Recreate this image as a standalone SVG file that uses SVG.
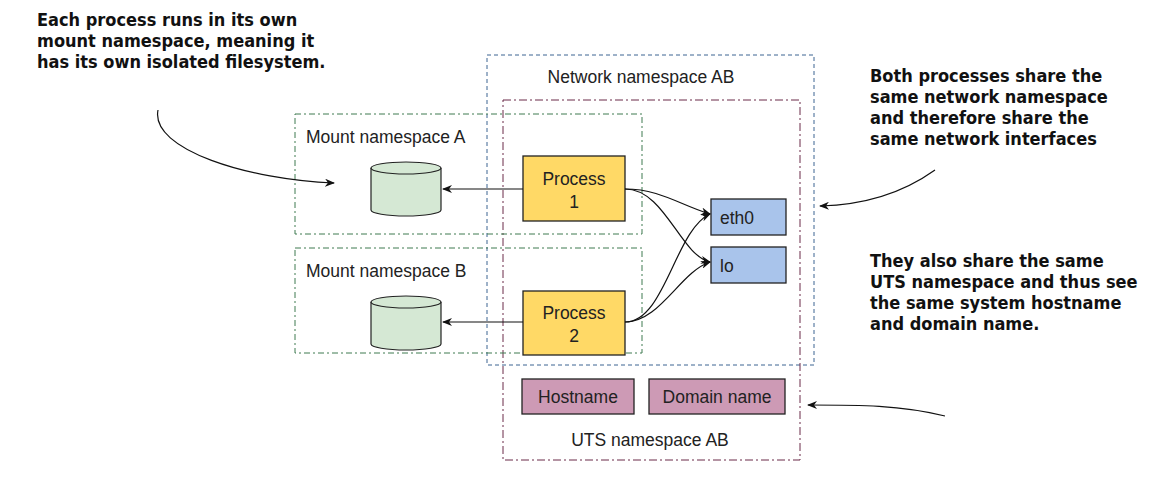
<svg xmlns="http://www.w3.org/2000/svg" width="1154" height="478" viewBox="0 0 1154 478">
<style>
.lbl{font-family:"Liberation Sans",Arial,sans-serif;font-size:17.5px;fill:#222}
.ann{font-family:"DejaVu Sans Condensed","Liberation Sans",sans-serif;font-weight:bold;font-size:18px;fill:#111}
.box{stroke:#222;stroke-width:1.3}
.c{fill:none;stroke:#111;stroke-width:1.2}
</style>
<defs><marker id="a" markerWidth="10" markerHeight="8" refX="9" refY="4" orient="auto" markerUnits="userSpaceOnUse"><path d="M0,0L10,4L0,8L3,4z" fill="#111"/></marker></defs>
<rect width="1154" height="478" fill="#fff"/>
<g id="network-ns"><rect x="487" y="55" width="327" height="310" fill="none" stroke="#3d6592" stroke-dasharray="4,3"/><text class="lbl" x="641" y="83" text-anchor="middle">Network namespace AB</text></g>
<g id="uts-ns"><rect x="503" y="100" width="297" height="360" fill="none" stroke="#6b2a48" stroke-dasharray="8,3,2,3"/><text class="lbl" x="650" y="446" text-anchor="middle">UTS namespace AB</text></g>
<g id="mount-a"><rect x="295" y="114" width="347" height="120" fill="none" stroke="#3f7a50" stroke-dasharray="6,3,2,3"/><text class="lbl" x="306" y="143">Mount namespace A</text></g>
<g id="mount-b"><rect x="295" y="248" width="347" height="105" fill="none" stroke="#3f7a50" stroke-dasharray="6,3,2,3"/><text class="lbl" x="306" y="277">Mount namespace B</text></g>
<g id="disk-a"><path d="M371,168v42a35,6 0 0 0 70,0v-42" fill="#d5e8d4" stroke="#222" stroke-width="1.2"/><ellipse cx="406" cy="168" rx="35" ry="6" fill="#d5e8d4" stroke="#222" stroke-width="1.2"/></g>
<g id="disk-b"><path d="M371,302v42a35,6 0 0 0 70,0v-42" fill="#d5e8d4" stroke="#222" stroke-width="1.2"/><ellipse cx="406" cy="302" rx="35" ry="6" fill="#d5e8d4" stroke="#222" stroke-width="1.2"/></g>
<g id="process1"><rect class="box" x="523" y="156" width="102" height="65" fill="#ffd966"/><text class="lbl" x="574" y="185" text-anchor="middle" font-size="19">Process</text><text class="lbl" x="574" y="208" text-anchor="middle" font-size="19">1</text></g>
<g id="process2"><rect class="box" x="523" y="291" width="102" height="64" fill="#ffd966"/><text class="lbl" x="574" y="319" text-anchor="middle" font-size="19">Process</text><text class="lbl" x="574" y="342" text-anchor="middle" font-size="19">2</text></g>
<g id="eth0"><rect class="box" x="711" y="199" width="75" height="36" fill="#a9c4eb"/><text class="lbl" x="720" y="224" font-size="18">eth0</text></g>
<g id="lo"><rect class="box" x="711" y="247" width="75" height="36" fill="#a9c4eb"/><text class="lbl" x="720" y="272" font-size="18">lo</text></g>
<g id="hostname"><rect class="box" x="522" y="379" width="112" height="35" fill="#cd9ab5"/><text class="lbl" x="578" y="403" text-anchor="middle">Hostname</text></g>
<g id="domain"><rect class="box" x="649" y="379" width="136" height="35" fill="#cd9ab5"/><text class="lbl" x="717" y="403" text-anchor="middle">Domain name</text></g>
<g id="annotations">
<text class="ann"><tspan x="37" y="26">Each process runs in its own</tspan><tspan x="37" y="47">mount namespace, meaning it</tspan><tspan x="37" y="68">has its own isolated filesystem.</tspan></text>
<text class="ann"><tspan x="870" y="82">Both processes share the</tspan><tspan x="870" y="103">same network namespace</tspan><tspan x="870" y="124">and therefore share the</tspan><tspan x="870" y="145">same network interfaces</tspan></text>
<text class="ann"><tspan x="870" y="267">They also share the same</tspan><tspan x="870" y="288">UTS namespace and thus see</tspan><tspan x="870" y="309">the same system hostname</tspan><tspan x="870" y="330">and domain name.</tspan></text>
</g>
<g id="connectors">
<path class="c" d="M523,189H443" marker-end="url(#a)"/>
<path class="c" d="M523,322H443" marker-end="url(#a)"/>
<path class="c" d="M625,189C660,189 680,205 710,214" marker-end="url(#a)"/>
<path class="c" d="M625,189C665,189 680,255 710,262" marker-end="url(#a)"/>
<path class="c" d="M625,322C665,322 675,230 710,214" marker-end="url(#a)"/>
<path class="c" d="M625,322C660,322 680,272 710,262" marker-end="url(#a)"/>
<path class="c" d="M158,110C150,150 250,180 334,183" marker-end="url(#a)"/>
<path class="c" d="M935,170C900,195 860,205 820,206" marker-end="url(#a)"/>
<path class="c" d="M945,416C900,405 860,405 808,405" marker-end="url(#a)"/>
</g>
</svg>
